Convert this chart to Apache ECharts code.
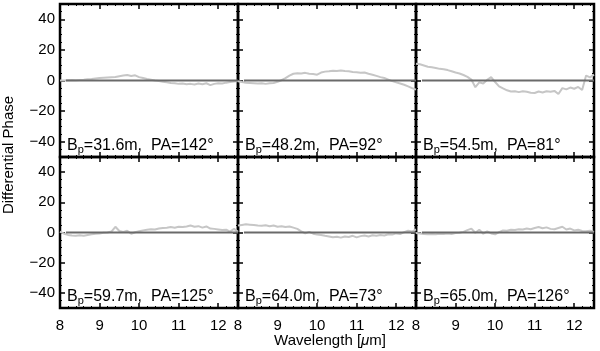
<!DOCTYPE html>
<html>
<head>
<meta charset="utf-8">
<script src="https://cdn.jsdelivr.net/npm/echarts@6/dist/echarts.min.js"></script>
<style>
  html, body { margin: 0; padding: 0; background: #fff; }
  #container { width: 600px; height: 351px; }
</style>
</head>
<body>
<div id="container"></div>
<script>
// wavelength grid in micron
const wavelength = [8.0, 8.1, 8.2, 8.3, 8.4, 8.5, 8.6, 8.7, 8.8, 8.9,
  9.0, 9.1, 9.2, 9.3, 9.4, 9.5, 9.6, 9.7, 9.8, 9.9,
  10.0, 10.1, 10.2, 10.3, 10.4, 10.5, 10.6, 10.7, 10.8, 10.9,
  11.0, 11.1, 11.2, 11.3, 11.4, 11.5, 11.6, 11.7, 11.8, 11.9,
  12.0, 12.1, 12.2, 12.3, 12.4, 12.5];

// differential phase per baseline (degrees)
const phase1 = [0, 0, 0.2, 0.3, 0.2, 0.4, 0.5, 0.8, 1.0, 1.3,
  1.6, 1.8, 2.0, 2.2, 2.3, 2.8, 3.2, 3.6, 3.0, 3.4,
  2.2, 1.6, 1.0, 0.5, 0.0, -0.4, -0.8, -1.2, -1.6, -1.8,
  -2.2, -2.0, -2.4, -2.2, -2.6, -2.0, -2.4, -1.8, -3.0, -2.2,
  -1.8, -2.0, -1.4, -1.0, -0.6, -0.4];
const phase2 = [-0.5, -1.0, -1.4, -1.6, -1.8, -2.0, -1.8, -2.2, -1.8, -1.6,
  -0.8, 0.2, 1.6, 3.2, 4.4, 4.8, 4.6, 5.0, 4.4, 4.2,
  3.8, 5.2, 5.8, 6.0, 6.4, 6.2, 6.6, 6.2, 6.0, 5.6,
  5.4, 5.0, 5.2, 4.4, 3.8, 3.0, 2.2, 1.6, 0.6, -0.4,
  -1.2, -2.0, -2.8, -3.8, -5.0, -6.0];
const phase3 = [11.0, 10.6, 9.8, 9.0, 8.6, 8.2, 7.6, 7.4, 6.8, 6.0,
  5.2, 4.6, 3.6, 2.4, 0.6, -4.4, -1.2, -2.0, 0.4, 2.2,
  -1.0, -3.8, -5.2, -6.4, -7.2, -7.0, -7.6, -7.0, -7.4, -8.0,
  -8.2, -7.2, -7.8, -7.0, -7.4, -6.8, -8.8, -5.0, -5.8, -4.6,
  -5.4, -4.2, -6.2, 3.2, 2.0, 3.8];
const phase4 = [0.6, -0.8, -1.6, -2.0, -2.2, -1.8, -2.2, -1.6, -1.2, -0.8,
  -0.6, -0.2, 0.0, 0.6, 3.8, 1.0, 0.4, 1.2, -0.8, 0.2,
  0.8, 1.4, 1.8, 2.2, 2.0, 2.6, 3.0, 3.2, 3.6, 3.2,
  3.8, 3.6, 4.0, 4.6, 3.8, 4.2, 3.2, 4.0, 2.6, 2.4,
  2.0, 1.6, 1.8, 0.6, 2.4, 0.4];
const phase5 = [4.6, 5.0, 5.4, 5.2, 5.0, 4.6, 4.4, 4.8, 4.2, 4.6,
  3.8, 4.2, 3.6, 4.0, 3.2, 2.4, 0.8, -0.6, 0.4, -0.8,
  -1.4, -1.6, -2.2, -2.6, -3.2, -2.8, -3.4, -2.6, -3.0, -2.2,
  -3.2, -2.4, -2.0, -2.6, -1.8, -2.2, -1.6, -2.0, -1.2, -1.4,
  -0.6, -1.0, 0.2, 1.2, 0.6, 2.0];
const phase6 = [-0.4, -0.6, -1.0, -1.2, -1.0, -1.2, -0.8, -1.0, -0.6, -1.0,
  -0.4, -0.2, 0.4, 1.6, 2.6, -0.2, 1.8, -0.8, 0.8, -0.6,
  -1.2, 0.2, 1.4, 1.2, 1.8, 1.6, 2.2, 2.0, 2.6, 2.2,
  3.0, 3.6, 2.8, 3.4, 2.4, 2.2, 3.0, 3.8, 2.0, 2.6,
  1.4, 1.8, 1.0, 0.8, 1.2, 0.4];

const baselines = ['31.6', '48.2', '54.5', '59.7', '64.0', '65.0'];
const angles = ['142', '92', '81', '125', '73', '126'];
const zeroLineX = [8.15, 12.5];

var font = '"Liberation Sans", Arial, sans-serif';
var panels = [phase1, phase2, phase3, phase4, phase5, phase6];
var lefts = [60, 238, 416];
var tops = [4, 157];
var heights = [153, 151];

var grids = [], xAxes = [], yAxes = [], series = [], graphics = [];

panels.forEach(function (vals, i) {
    var col = i % 3, row = Math.floor(i / 3);
    grids.push({
        left: lefts[col], top: tops[row], width: 178, height: heights[row],
        show: true, borderColor: '#000', borderWidth: 2.5, backgroundColor: 'transparent'
    });

    var tick = { inside: true, length: 5, lineStyle: { color: '#000', width: 1.5 } };
    ['bottom', 'top'].forEach(function (pos) {
        xAxes.push({
            type: 'value', gridIndex: i, position: pos, min: 8, max: 12.5, interval: 1,
            axisLine: { show: false, onZero: false },
            axisTick: tick,
            minorTick: { show: true, splitNumber: 5, length: 2, lineStyle: { color: '#000', width: 1 } },
            splitLine: { show: false },
            axisLabel: {
                show: pos === 'bottom' && row === 1, showMaxLabel: false, margin: 10,
                fontSize: 15, color: '#000', fontFamily: font
            }
        });
    });
    ['left', 'right'].forEach(function (pos) {
        yAxes.push({
            type: 'value', gridIndex: i, position: pos, min: -50, max: 50, splitNumber: 5,
            axisLine: { show: false, onZero: false },
            axisTick: tick,
            minorTick: { show: true, splitNumber: 4, length: 2, lineStyle: { color: '#000', width: 1 } },
            splitLine: { show: false },
            axisLabel: {
                show: pos === 'left' && col === 0, showMinLabel: false, showMaxLabel: false,
                margin: 5, fontSize: 15, color: '#000', fontFamily: font,
                formatter: function (v) { return String(v).replace('-', '\u2212'); }
            }
        });
    });

    series.push({
        type: 'line', xAxisIndex: 2 * i, yAxisIndex: 2 * i, showSymbol: false, z: 2,
        lineStyle: { color: '#c6c6c6', width: 2 },
        data: wavelength.map(function (w, j) { return [w, vals[j]]; })
    });
    series.push({
        type: 'line', xAxisIndex: 2 * i, yAxisIndex: 2 * i, showSymbol: false, z: 3,
        lineStyle: { color: '#6a6a6a', width: 2 },
        data: zeroLineX.map(function (w) { return [w, 0]; })
    });

    graphics.push({
        type: 'text', x: lefts[col] + 7, y: tops[row] + heights[row] - 20,
        style: {
            text: '{b|B}{s|p}{b|=' + baselines[i] + 'm,  PA=' + angles[i] + '\u00b0}',
            rich: {
                b: { fontSize: 16, fontFamily: font, fill: '#000', lineHeight: 18, verticalAlign: 'middle' },
                s: { fontSize: 11, fontFamily: font, fill: '#000', lineHeight: 10, verticalAlign: 'bottom' }
            }
        }
    });
});

graphics.push({
    type: 'text', x: 330, y: 341,
    style: {
        text: '{n|Wavelength [}{m|\u03bc}{n|m]}', align: 'center', verticalAlign: 'middle',
        rich: {
            n: { fontSize: 15, fontFamily: font, fill: '#000' },
            m: { fontSize: 15, fontFamily: font, fill: '#000', fontStyle: 'italic' }
        }
    }
});
graphics.push({
    type: 'text', x: 9, y: 155, rotation: Math.PI / 2,
    style: {
        text: 'Differential Phase', align: 'center', verticalAlign: 'middle',
        fontSize: 15, fontFamily: font, fill: '#000'
    }
});

var myChart = echarts.init(document.getElementById('container'), null, { renderer: 'canvas' });
myChart.setOption({
    animation: false,
    backgroundColor: '#fff',
    grid: grids,
    xAxis: xAxes,
    yAxis: yAxes,
    series: series,
    graphic: graphics
});
window.addEventListener('resize', myChart.resize);
</script>
</body>
</html>
